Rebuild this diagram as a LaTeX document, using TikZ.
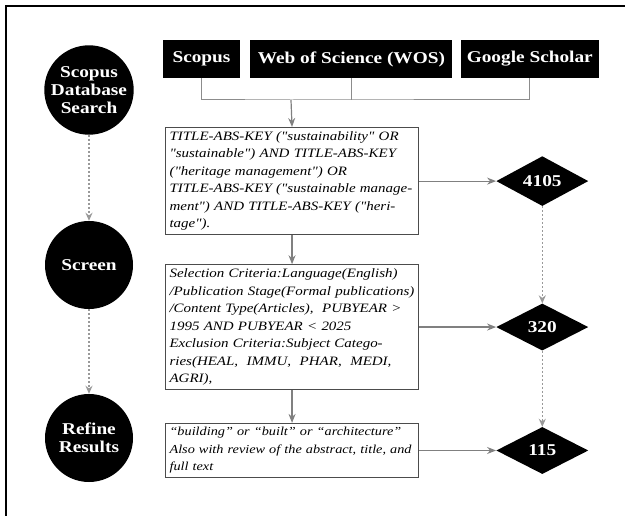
\documentclass[tikz,border=0pt]{standalone}
\usepackage{fontspec}
\setmainfont[FakeStretch=1.17,Ligatures=TeXOff]{Liberation Serif}
\usetikzlibrary{shapes.geometric,positioning,arrows.meta}

\tikzset{
  stage/.style={circle,fill=black,text=white,minimum size=88pt,inner sep=0pt,
    align=center,font=\fontsize{16.5}{18}\selectfont\bfseries},
  source/.style={fill=black,text=white,minimum height=38pt,inner sep=2pt,
    font=\fontsize{16.5}{18}\selectfont\bfseries},
  querybox/.style={draw=black!70,line width=1.1pt,text width=245pt,align=left,
    inner sep=4pt,font=\fontsize{12.8}{17.5}\selectfont\itshape},
  count/.style={diamond,fill=black,text=white,minimum width=92pt,minimum height=47pt,
    inner sep=0pt,font=\fontsize{16.5}{18}\selectfont\bfseries},
  flow/.style={draw=black!50,line width=1.2pt,-{Stealth[length=9pt,width=7pt]}},
  dotflow/.style={draw=black!40,line width=1.4pt,dash pattern=on 2pt off 2pt,
    -{Stealth[length=8pt,width=7pt]}},
}

\begin{document}
\begin{tikzpicture}[x=1pt,y=-1pt]
\useasboundingbox (0,0) rectangle (625,516);
% frame
\draw[line width=2.2pt] (6,516) -- (6,6) -- (625,6);

% stages
\node[stage] (search) at (89,90) {Scopus\\Database\\Search};
\node[stage] (screen) at (89,265) {Screen};
\node[stage] (refine) at (89,438) {Refine\\Results};
\draw[dotflow] (search) -- (screen);
\draw[dotflow] (screen) -- (refine);

% databases
\node[source,minimum width=77pt] (scopus) at (201.5,59) {Scopus};
\node[source,minimum width=202pt] (wos) [right=10pt of scopus] {Web of Science (WOS)};
\node[source,minimum width=138pt] (gscholar) [right=8pt of wos] {Google Scholar};
\coordinate (merge) at (291,100);
\draw[black!45,line width=1pt] (scopus.south) |- (merge) -| (gscholar.south)
  (wos.south) -- (wos.south |- merge);

% query steps
\node[querybox,anchor=north west] (query) at (165,127)
  {TITLE-ABS-KEY ("sustainability" OR\\
   "sustainable") AND TITLE-ABS-KEY\\
   ("heritage management") OR\\
   TITLE-ABS-KEY ("sustainable manage-\\
   ment") AND TITLE-ABS-KEY ("heri-\\
   tage").};
\node[querybox] (criteria) [below=29pt of query]
  {Selection Criteria:Language(English)\\
   /Publication Stage(Formal publications)\\
   /Content Type(Articles),~~PUBYEAR >\\
   1995 AND PUBYEAR < 2025\\
   Exclusion Criteria:Subject Catego-\\
   ries(HEAL,~~IMMU,~~PHAR,~~MEDI,\\
   AGRI),};
\node[querybox,font=\fontsize{12.2}{17.5}\selectfont\itshape] (review) [below=33pt of criteria]
  {“building” or “built” or “architecture”\\
   Also with review of the abstract, title, and\\
   full text};
\draw[flow] (merge) -- (query.north);
\draw[flow] (query) -- (criteria);
\draw[flow] (criteria) -- (review);

% counts
\node[count] (n4105) [right=77pt of query] {4105};
\node[count] (n320) [right=77pt of criteria] {320};
\node[count] (n115) [right=77pt of review] {115};
\draw[flow] (query) -- (n4105);
\draw[flow] (criteria) -- (n320);
\draw[flow] (review) -- (n115);
\draw[dotflow] (n4105) -- (n320);
\draw[dotflow] (n320) -- (n115);
\end{tikzpicture}
\end{document}
